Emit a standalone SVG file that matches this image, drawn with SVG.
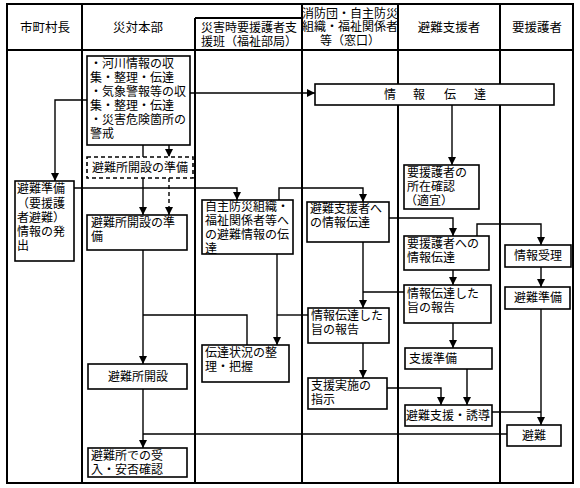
<svg xmlns="http://www.w3.org/2000/svg" width="580" height="488" viewBox="0 0 580 488">
<defs>
<style>
text{font-family:"Liberation Sans","Noto Sans CJK JP",sans-serif;font-size:12px;fill:#000;dominant-baseline:central}
.c{text-anchor:middle}
.h{font-size:12.5px}
.grid{stroke:#000;stroke-width:2;fill:none}
.box{fill:#fff;stroke:#000;stroke-width:1.6}
.dash{fill:#fff;stroke:#000;stroke-width:1.6;stroke-dasharray:4 3}
.ln{fill:none;stroke:#000;stroke-width:1.4}
.ar{fill:none;stroke:#000;stroke-width:1.4;marker-end:url(#ah)}
.dar{fill:none;stroke:#000;stroke-width:1.4;stroke-dasharray:4 3;marker-end:url(#ah)}
</style>
<marker id="ah" markerUnits="userSpaceOnUse" markerWidth="9" markerHeight="9" refX="8" refY="4" orient="auto">
<path d="M0,0 L8,4 L0,8 z" fill="#000"/>
</marker>
</defs>
<rect width="580" height="488" fill="#fff"/>
<g id="table">
<rect class="grid" x="7" y="4" width="566" height="479"/>
<line class="grid" x1="7" y1="50" x2="573" y2="50"/>
<line class="grid" x1="82" y1="4" x2="82" y2="483"/>
<line class="grid" x1="195" y1="18" x2="195" y2="483"/>
<line class="grid" x1="195" y1="18" x2="302" y2="18"/>
<line class="grid" x1="302" y1="4" x2="302" y2="483"/>
<line class="grid" x1="398" y1="4" x2="398" y2="483"/>
<line class="grid" x1="500" y1="4" x2="500" y2="483"/>
<text class="c h" x="45" y="28">市町村長</text>
<text class="c h" x="138" y="28">災対本部</text>
<text class="c" x="249" y="28">災害時要援護者支</text>
<text class="c" x="249" y="42">援班（福祉部局）</text>
<text class="c" x="350" y="13.5">消防団・自主防災</text>
<text class="c" x="350" y="27">組織・福祉関係者</text>
<text class="c" x="350" y="40.5">等（窓口）</text>
<text class="c h" x="449" y="28">避難支援者</text>
<text class="c h" x="537" y="28">要援護者</text>
</g>
<g id="connectors">
<path class="ar" d="M190,93 H315"/>
<path class="ar" d="M87,100 H55 V181"/>
<path class="ar" d="M143,145 V215"/>
<path class="dar" d="M169,145 V157"/>
<path class="dar" d="M169,178 V215"/>
<path class="ar" d="M452,105 V165"/>
<path class="ar" d="M74,188 H237 V200"/>
<path class="ar" d="M279,200 V188 H363 V202"/>
<path class="ar" d="M389,218 H453 V236"/>
<path class="ar" d="M477,236 V224 H541 V245"/>
<path class="ar" d="M541,267 V287"/>
<path class="ar" d="M453,270 V285"/>
<path class="ar" d="M363,242 V308"/>
<path class="ln" d="M404,292 H363"/>
<path class="ar" d="M277,254 V345"/>
<path class="ln" d="M308,315 H277"/>
<path class="ar" d="M143,250 V364"/>
<path class="ln" d="M143,315 H247 V345"/>
<path class="ar" d="M143,389 V448"/>
<path class="ln" d="M507,434 H143"/>
<path class="ar" d="M453,323 V348"/>
<path class="ar" d="M363,343 V378"/>
<path class="ar" d="M387,388 H441 V405"/>
<path class="ar" d="M467,369 V405"/>
<path class="ar" d="M541,309 V425"/>
<path class="ln" d="M492,412 H541"/>
</g>
<g id="n-kasen">
<rect class="box" x="87" y="56" width="103" height="89"/>
<text x="90" y="64">・河川情報の収</text>
<text x="90" y="78">集・整理・伝達</text>
<text x="90" y="92">・気象警報等の収</text>
<text x="90" y="106">集・整理・伝達</text>
<text x="90" y="120">・災害危険箇所の</text>
<text x="90" y="134">警戒</text>
</g>
<g id="n-junbi-dash">
<rect class="dash" x="87" y="157" width="106" height="21"/>
<text class="c" x="140" y="167.5">避難所開設の準備</text>
</g>
<g id="n-junbi">
<rect class="box" x="87" y="215" width="100" height="35"/>
<text x="91" y="223">避難所開設の準</text>
<text x="91" y="237">備</text>
</g>
<g id="n-hinanjunbi">
<rect class="box" x="15" y="181" width="59" height="80"/>
<text x="17" y="189">避難準備</text>
<text x="17" y="203.5">（要援護</text>
<text x="17" y="218">者避難）</text>
<text x="17" y="232">情報の発</text>
<text x="17" y="246">出</text>
</g>
<g id="n-joho">
<rect class="box" x="315" y="84" width="239" height="21"/>
<text class="c" x="390" y="94.5">情</text>
<text class="c" x="419" y="94.5">報</text>
<text class="c" x="450" y="94.5">伝</text>
<text class="c" x="480" y="94.5">達</text>
</g>
<g id="n-shozai">
<rect class="box" x="404" y="165" width="75" height="44"/>
<text x="407" y="173">要援護者の</text>
<text x="407" y="187">所在確認</text>
<text x="405" y="201">（適宜）</text>
</g>
<g id="n-jishu">
<rect class="box" x="202" y="200" width="91" height="54"/>
<text x="205" y="207">自主防災組織・</text>
<text x="205" y="221">福祉関係者等へ</text>
<text x="205" y="235">の避難情報の伝</text>
<text x="205" y="249">達</text>
</g>
<g id="n-shiensha">
<rect class="box" x="307" y="202" width="82" height="40"/>
<text x="310" y="209">避難支援者へ</text>
<text x="310" y="223">の情報伝達</text>
</g>
<g id="n-yoengo">
<rect class="box" x="404" y="236" width="85" height="34"/>
<text x="407" y="244">要援護者への</text>
<text x="407" y="258">情報伝達</text>
</g>
<g id="n-juri">
<rect class="box" x="505" y="245" width="66" height="22"/>
<text class="c" x="538" y="256">情報受理</text>
</g>
<g id="n-junbi2">
<rect class="box" x="505" y="287" width="65" height="22"/>
<text class="c" x="538" y="298">避難準備</text>
</g>
<g id="n-hokoku1">
<rect class="box" x="404" y="285" width="87" height="38"/>
<text x="407" y="293.5">情報伝達した</text>
<text x="407" y="307.5">旨の報告</text>
</g>
<g id="n-hokoku2">
<rect class="box" x="308" y="308" width="81" height="35"/>
<text x="311" y="316">情報伝達した</text>
<text x="311" y="330">旨の報告</text>
</g>
<g id="n-seiri">
<rect class="box" x="202" y="345" width="87" height="37"/>
<text x="205" y="353">伝達状況の整</text>
<text x="205" y="367">理・把握</text>
</g>
<g id="n-kaisetsu">
<rect class="box" x="88" y="364" width="99" height="25"/>
<text class="c" x="138" y="376.5">避難所開設</text>
</g>
<g id="n-ukeire">
<rect class="box" x="88" y="448" width="99" height="29"/>
<text x="91" y="455.5">避難所での受</text>
<text x="91" y="469.5">入・安否確認</text>
</g>
<g id="n-shienjunbi">
<rect class="box" x="405" y="348" width="87" height="21"/>
<text x="409" y="358.5">支援準備</text>
</g>
<g id="n-shiji">
<rect class="box" x="308" y="378" width="79" height="31"/>
<text x="311" y="386">支援実施の</text>
<text x="311" y="400">指示</text>
</g>
<g id="n-yudo">
<rect class="box" x="405" y="405" width="87" height="21"/>
<text class="c" x="448" y="415.5">避難支援・誘導</text>
</g>
<g id="n-hinan">
<rect class="box" x="507" y="425" width="54" height="21"/>
<text class="c" x="534" y="435.5">避難</text>
</g>
</svg>
